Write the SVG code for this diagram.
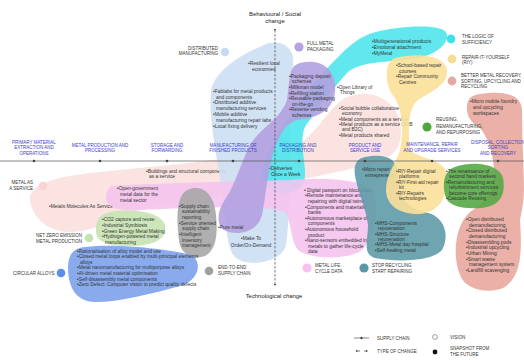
<svg xmlns="http://www.w3.org/2000/svg" width="524" height="360" viewBox="0 0 524 360">
<style>
text{font-family:"Liberation Sans",Arial,sans-serif;fill:#333}
.t{font-size:4.9px}
.l{font-size:4.5px}
.s{font-size:4.5px;fill:#3d3dc9;text-anchor:middle}
.h{font-size:5.9px;fill:#222;text-anchor:middle}
.b{opacity:0.9}
</style>
<defs>
<marker id="ah" viewBox="0 0 6 6" refX="3" refY="3" markerWidth="3" markerHeight="3" orient="auto"><path d="M0,0 L6,3 L0,6 Z" fill="#333"/></marker>
</defs>
<rect width="524" height="360" fill="#fff"/>

<g id="metal-as-a-service">
<path class="b" fill="#fbe0df" d="M30,200 C28,185 55,176 100,172 C160,166 230,160 290,148 C315,140 325,110 345,98 C370,86 400,100 401,130 C402,155 385,162 355,168 C300,180 230,195 160,205 C120,212 100,232 70,232 C45,232 32,215 30,200 Z"/>
<circle cx="43" cy="186" r="4.2" fill="#f7d3d2"/>
<text class="l" x="33" y="183.6" text-anchor="end">METAL AS</text>
<text class="l" x="33" y="189.6" text-anchor="end">A SERVICE</text>
<text class="t" x="49" y="207.7">•Metals Molecules As Service</text>
<text class="t" x="146" y="172.7">•Buildings and structural components</text>
<text class="t" x="149" y="178.2">as a service</text>
<text class="t" x="339" y="109.7">•Social bubble collaborative</text>
<text class="t" x="342" y="115.2">economy</text>
<text class="t" x="339" y="120.7">•Metal components as a service</text>
<text class="t" x="339" y="125.9">•Metal products as a service (B2B</text>
<text class="t" x="342" y="131.2">and B2C)</text>
<text class="t" x="339" y="136.7">•Metal products shared</text>
</g>

<g id="distributed-manufacturing">
<path class="b" fill="#cddff4" d="M262,46 C275,38 292,44 293,58 C294,75 290,100 290,130 C290,170 290,220 286,245 C282,262 250,268 236,258 C226,250 226,220 222,190 C218,160 208,120 211,92 C213,72 240,55 262,46 Z"/>
<circle cx="225" cy="52" r="4.2" fill="#c6daf1"/>
<text class="l" x="218" y="49.6" text-anchor="end">DISTRIBUTED</text>
<text class="l" x="218" y="55.2" text-anchor="end">MANUFACTURING</text>
<text class="t" x="248" y="64.7">•Resilient local</text>
<text class="t" x="252" y="70.5">economies</text>
<text class="t" x="213" y="92.7">•Fablabs for metal products</text>
<text class="t" x="216" y="98.5">and components</text>
<text class="t" x="213" y="104.3">•Distributed additive</text>
<text class="t" x="216" y="110.1">manufacturing services</text>
<text class="t" x="213" y="115.9">•Mobile additive</text>
<text class="t" x="216" y="121.7">manufacturing repair labs</text>
<text class="t" x="213" y="127.5">•Local fixing delivery</text>
</g>

<g id="logic-of-sufficiency">
<path class="b" fill="#4fe5ec" d="M372,33 C400,25 440,24 446,32 C452,42 435,58 405,60 C385,62 360,62 348,72 C335,85 318,110 306,125 C300,135 303,150 305,170 C306,185 300,192 285,193 C270,194 262,186 262,175 C262,160 275,140 285,122 C298,100 320,75 340,55 C350,45 360,37 372,33 Z"/>
<circle cx="451" cy="39" r="4.4" fill="#3fe0ea"/>
<text class="l" x="462" y="37.6">THE LOGIC OF</text>
<text class="l" x="462" y="43.6">SUFFICIENCY</text>
<text class="t" x="372" y="43.2">•Multigenerational products</text>
<text class="t" x="372" y="49.2">•Emotional attachment</text>
<text class="t" x="372" y="54.7">•MyMetal</text>
<text class="t" x="337" y="88.7">•Open Library of</text>
<text class="t" x="340" y="94.2">Things</text>
<text class="t" x="269" y="169.7">•Deliveries</text>
<text class="t" x="271" y="175.5">Once a Week</text>
</g>

<g id="metal-life-cycle-data">
<path class="b" fill="#f5c3ee" d="M112,186 C150,183 230,182 290,180 C320,178 360,178 372,190 C380,205 376,235 362,250 C350,260 310,260 298,250 C290,240 292,222 285,212 C270,205 200,207 140,210 C115,212 105,205 106,196 C107,190 109,187 112,186 Z"/>
<circle cx="307" cy="268" r="4.6" fill="#f6c0ef"/>
<text class="l" x="315" y="266.6">METAL LIFE</text>
<text class="l" x="315" y="272.6">CYCLE DATA</text>
<text class="t" x="117" y="189.7">•Open-government</text>
<text class="t" x="120" y="195.7">metal data for the</text>
<text class="t" x="120" y="201.7">metal sector</text>
<text class="t" x="304" y="191.7">• Digital passport on blockchain</text>
<text class="t" x="305" y="197.3">•Remote maintenance and</text>
<text class="t" x="308" y="202.9">repairing with digital twins</text>
<text class="t" x="305" y="208.5">•Components and materials</text>
<text class="t" x="308" y="214.1">banks</text>
<text class="t" x="305" y="219.7">•Autonomous marketplace of</text>
<text class="t" x="308" y="225.3">components</text>
<text class="t" x="305" y="230.9">•Autonomous household</text>
<text class="t" x="308" y="236.5">product</text>
<text class="t" x="305" y="242.1">•Nano-sensors embedded in</text>
<text class="t" x="308" y="247.7">metals to gather life-cycle</text>
<text class="t" x="308" y="253.3">data</text>
</g>

<g id="end-to-end-supply-chain">
<path class="b" fill="#a6a6a6" d="M195,188 C207,187 215,200 216,215 C218,235 216,250 205,256 C192,260 180,254 179,240 C177,225 176,205 182,195 C186,190 190,188 195,188 Z"/>
<circle cx="209" cy="271" r="4.3" fill="#a0a0a0"/>
<text class="l" x="218" y="268.6">END-TO-END</text>
<text class="l" x="218" y="274.6">SUPPLY CHAIN</text>
<text class="t" x="179" y="207.7">•Supply chain</text>
<text class="t" x="182" y="213.2">sustainability</text>
<text class="t" x="182" y="219">reporting</text>
<text class="t" x="179" y="224.7">•Service oriented</text>
<text class="t" x="182" y="230.4">supply chain</text>
<text class="t" x="179" y="236">•Intelligent</text>
<text class="t" x="182" y="241.5">inventory</text>
<text class="t" x="182" y="247">management</text>
</g>

<g id="full-metal-packaging">
<path class="b" fill="#b3a1e0" d="M300,63 C322,58 337,70 335,92 C333,110 318,118 298,120 C288,122 282,130 276,145 C268,165 266,195 262,215 C258,232 238,236 226,231 C216,227 216,212 226,198 C235,185 240,165 250,145 C260,128 280,120 287,100 C290,80 288,66 300,63 Z"/>
<circle cx="299" cy="47" r="4.6" fill="#b6a4e2"/>
<text class="l" x="307" y="44.6">FULL METAL</text>
<text class="l" x="307" y="50.6">PACKAGING</text>
<text class="t" x="289" y="77.7">•Packaging deposit</text>
<text class="t" x="292" y="83.2">schemes</text>
<text class="t" x="289" y="88.9">•Milkman model</text>
<text class="t" x="289" y="94.5">•Refilling station</text>
<text class="t" x="289" y="100.2">•Reusable packaging</text>
<text class="t" x="292" y="105.7">on-the-go</text>
<text class="t" x="289" y="111.2">•Reverse vending</text>
<text class="t" x="292" y="116.7">schemes</text>
<text class="t" x="218" y="228.7">•Pure metal</text>
</g>

<g id="make-to-order">
<text class="t" x="251" y="240.2" text-anchor="middle">•Make To</text>
<text class="t" x="251" y="246.7" text-anchor="middle">Order/On-Demand</text>
</g>

<g id="net-zero-emission">
<path class="b" fill="#c6e3b2" d="M110,212 C135,208 160,212 165,225 C168,238 155,246 130,246 C110,246 97,243 96,232 C95,220 100,214 110,212 Z"/>
<circle cx="89" cy="238" r="4.3" fill="#c4e3b0"/>
<text class="l" x="82" y="237.2" text-anchor="end">NET ZERO EMISSION</text>
<text class="l" x="82" y="242.8" text-anchor="end">METAL PRODUCTION</text>
<text class="t" x="102" y="220.7">•CO2 capture and reuse</text>
<text class="t" x="102" y="226.6">•Industrial Symbiosis</text>
<text class="t" x="102" y="232.5">•Green Energy Metal Making</text>
<text class="t" x="102" y="238.2">•Hydrogen-powered metal</text>
<text class="t" x="105" y="243.7">manufacturing</text>
</g>

<g id="circular-alloys">
<path class="b" fill="#7ca2eb" d="M85,247 C120,243 170,250 192,255 C202,262 200,280 180,286 C150,294 120,302 95,302 C75,302 68,285 68,268 C68,255 73,248 85,247 Z"/>
<circle cx="61" cy="273" r="4.3" fill="#5b8ded"/>
<text class="l" x="13" y="274.6">CIRCULAR ALLOYS</text>
<text class="t" x="77" y="252.7">•Rationalisation of alloy model and use</text>
<text class="t" x="77" y="258.2">•Closed metal loops enabled by multi-principal elements</text>
<text class="t" x="80" y="263.7">alloys</text>
<text class="t" x="77" y="269.4">•Metal nanomanufacturing for multipurpose alloys</text>
<text class="t" x="77" y="274.9">•AI-driven metal material optimisation</text>
<text class="t" x="77" y="280.5">•Self-disassembly metal components</text>
<text class="t" x="77" y="286">•Zero Defect: Computer vision to predict quality defects</text>
</g>

<g id="stop-recycling-start-repairing">
<path class="b" fill="#5f9ba7" d="M365,157 C385,153 398,158 398,175 C398,195 405,208 425,212 C445,216 450,235 442,250 C432,262 395,262 375,258 C362,254 368,240 368,225 C366,205 352,180 355,166 C357,160 360,158 365,157 Z"/>
<circle cx="364" cy="268" r="4.6" fill="#5a98a6"/>
<text class="l" x="372" y="266.6">STOP RECYCLING</text>
<text class="l" x="372" y="272.6">START REPAIRING</text>
<text class="t" x="362" y="170.7">•Micro repair</text>
<text class="t" x="365" y="176.5">entrepreneurs</text>
<text class="t" x="375" y="224.7">•MHS-Components</text>
<text class="t" x="378" y="230.2">rejuvenation</text>
<text class="t" x="375" y="235.7">•MHS-Structure</text>
<text class="t" x="378" y="241.2">rejuvenation</text>
<text class="t" x="375" y="246.2">•MHS-Metal day hospital</text>
<text class="t" x="375" y="251.7">•Self-healing metal</text>
</g>

<g id="repair-it-yourself">
<path class="b" fill="#fbe09a" d="M395,58 C420,52 445,56 447,70 C449,85 430,92 418,100 C408,108 408,130 410,150 C420,160 445,158 447,175 C449,195 440,212 420,214 C400,215 386,205 386,190 C386,175 395,165 400,150 C404,130 402,110 395,98 C385,88 383,62 395,58 Z"/>
<circle cx="452" cy="59" r="4.4" fill="#f8dc90"/>
<text class="l" x="462" y="58.6">REPAIR-IT-YOURSELF</text>
<text class="l" x="462" y="64.2">(RIY)</text>
<text class="t" x="396" y="67">•School-based repair</text>
<text class="t" x="399" y="72.7">courses</text>
<text class="t" x="396" y="78.4">•Repair Community</text>
<text class="t" x="399" y="83.7">Centres</text>
<text class="t" x="396" y="172.7">•RIY-Repair digital</text>
<text class="t" x="399" y="178.2">platforms</text>
<text class="t" x="396" y="183.7">•RIY-First-aid repair</text>
<text class="t" x="399" y="189.2">kit</text>
<text class="t" x="396" y="194.7">•RIY-Repairs</text>
<text class="t" x="399" y="200.2">technologies</text>
</g>

<g id="better-metal-recovery">
<path class="b" fill="#e9a89f" d="M480,94 C505,90 522,95 522,110 C522,140 524,170 524,190 C524,200 522,210 520,220 C522,250 522,275 505,287 C490,295 465,290 460,275 C452,255 455,225 470,212 C480,205 492,200 494,180 C495,160 490,140 480,128 C470,122 466,115 467,105 C468,98 472,95 480,94 Z"/>
<circle cx="452" cy="81" r="4.4" fill="#e6a9a0"/>
<text class="l" x="461" y="76.6">BETTER METAL RECOVERY,</text>
<text class="l" x="461" y="82.6">SORTING, UPCYCLING AND</text>
<text class="l" x="461" y="88.2">RECYCLING</text>
<text class="t" x="470" y="103.4">•Micro mobile foundry</text>
<text class="t" x="473" y="109">and upcycling</text>
<text class="t" x="473" y="114.7">workspaces</text>
<text class="t" x="466" y="221">•Open distributed</text>
<text class="t" x="469" y="226.7">demanufacturing</text>
<text class="t" x="466" y="232.4">•Closed distributed</text>
<text class="t" x="469" y="238.2">demanufacturing</text>
<text class="t" x="466" y="243.5">•Disassembling pods</text>
<text class="t" x="466" y="249">•Industrial upcycling</text>
<text class="t" x="466" y="254.8">•Urban Mining</text>
<text class="t" x="466" y="260.6">•Smart waste</text>
<text class="t" x="469" y="266">management system</text>
<text class="t" x="466" y="271.7">•Landfill scavenging</text>
</g>

<g id="reusing-remanufacturing">
<path class="b" fill="#56a846" d="M455,167 C475,160 500,165 503,178 C506,195 500,207 480,208 C465,209 450,207 446,198 C442,185 443,171 455,167 Z"/>
<circle cx="427" cy="127" r="4.5" fill="#4ca83c"/>
<text class="l" x="436" y="121.2">REUSING,</text>
<text class="l" x="436" y="127.6">REMANUFACTURING,</text>
<text class="l" x="436" y="133.6">AND REPURPOSING</text>
<text class="t" x="446" y="172.7">•The renaissance of</text>
<text class="t" x="449" y="178.2">second hand markets</text>
<text class="t" x="446" y="183.7">•Remanufacturing and</text>
<text class="t" x="449" y="189.2">refurbishment services</text>
<text class="t" x="449" y="194.7">become core offerings</text>
<text class="t" x="446" y="200.2">•Cascade Reusing</text>
</g>

<g id="connectors">
<line x1="0" y1="161" x2="524" y2="161" stroke="#555" stroke-width="0.7"/>
<g fill="#444">
<circle cx="34" cy="161" r="1.3"/><circle cx="100" cy="161" r="1.3"/><circle cx="167" cy="161" r="1.3"/><circle cx="233" cy="161" r="1.3"/><circle cx="299" cy="161" r="1.3"/><circle cx="365" cy="161" r="1.3"/><circle cx="432" cy="161" r="1.3"/><circle cx="498" cy="161" r="1.3"/>
</g>
<line x1="275" y1="30" x2="275" y2="285" stroke="#444" stroke-width="0.7" stroke-dasharray="2.5 1.5" marker-start="url(#ah)" marker-end="url(#ah)"/>
</g>

<g id="axis-labels">
<text class="h" x="275" y="16">Behavioural / Social</text>
<text class="h" x="275" y="23">change</text>
<text class="h" x="274" y="298">Technological change</text>
<text class="s" x="34" y="143.6">PRIMARY MATERIAL</text>
<text class="s" x="34" y="149.1">EXTRACTION AND</text>
<text class="s" x="34" y="154.6">OPERATIONS</text>
<text class="s" x="100" y="146.6">METAL PRODUCTION AND</text>
<text class="s" x="100" y="152.1">PROCESSING</text>
<text class="s" x="167" y="146.6">STORAGE AND</text>
<text class="s" x="167" y="152.1">FORWARDING</text>
<text class="s" x="233" y="146.6">MANUFACTURING OF</text>
<text class="s" x="233" y="152.1">FINISHED PRODUCTS</text>
<text class="s" x="298" y="146.6">PACKAGING AND</text>
<text class="s" x="298" y="152.1">DISTRIBUTION</text>
<text class="s" x="365" y="146.6">PRODUCT AND</text>
<text class="s" x="365" y="152.1">SERVICE USE</text>
<text class="s" x="432" y="145.6">MAINTENANCE, REPAIR</text>
<text class="s" x="432" y="151.6">AND UPGRADE SERVICES</text>
<text class="s" x="498" y="143.6">DISPOSAL, COLLECTION</text>
<text class="s" x="498" y="149.1">SORTING</text>
<text class="s" x="498" y="154.6">AND RECOVERY</text>
</g>

<g id="legend">
<line x1="354" y1="338" x2="369" y2="338" stroke="#555" stroke-width="0.7"/>
<circle cx="361.5" cy="338" r="1.2" fill="#444"/>
<text class="l" x="377" y="339.6">SUPPLY CHAIN</text>
<line x1="357" y1="351" x2="360" y2="351" stroke="#444" stroke-width="0.7" marker-start="url(#ah)"/>
<line x1="364" y1="351" x2="367" y2="351" stroke="#444" stroke-width="0.7" marker-end="url(#ah)"/>
<text class="l" x="377" y="352.6">TYPE OF CHANGE</text>
<circle cx="435" cy="337" r="2.4" fill="none" stroke="#444" stroke-width="0.5"/>
<text class="l" x="450" y="338.6">VISION</text>
<circle cx="435" cy="352" r="2.4" fill="#111"/>
<text class="l" x="450" y="350.4">SNAPSHOT FROM</text>
<text class="l" x="450" y="356">THE FUTURE</text>
</g>
</svg>
